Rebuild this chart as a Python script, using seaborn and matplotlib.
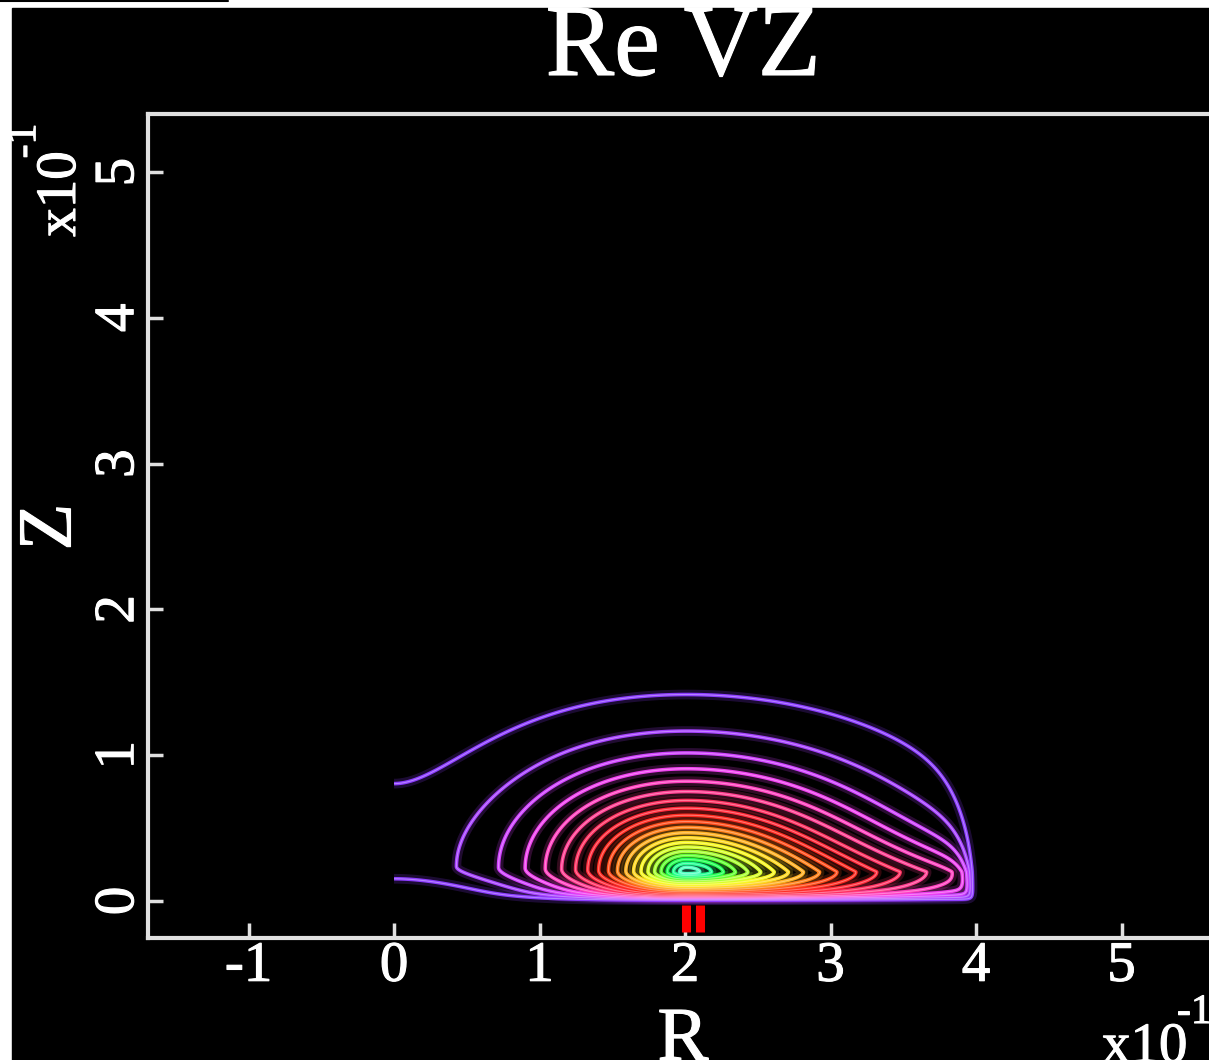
import numpy as np
import seaborn as sns
import matplotlib.pyplot as plt
import matplotlib.patheffects as pe
from matplotlib.patches import Rectangle
from matplotlib.lines import Line2D

# axis ticks (units of 1e-1)
X_TICKS = [-1, 0, 1, 2, 3, 4, 5]
Y_TICKS = [0, 1, 2, 3, 4, 5]
X_RANGE = (-1.691, 5.814)
Y_RANGE = (-0.254, 5.398)

# vortex field
R_CENTER = 2.01
Z_CENTER = 0.20
R_WALL = 3.99
RIDGE_RISE = 0.04
S_LEFT = 0.70
S_RIGHT_TOP = 0.80
S_RIGHT_LOW = 1.35
RIGHT_DECAY = 0.25
S_UP = 0.45
S_DOWN_CENTER = 0.20
S_DOWN_EDGE = 0.07
SHAPE_P = 1.12
AXIS_SMOOTH = 6
WALL_R0 = 0.04
WALL_R_SLOPE = 0.18
WALL_Z = 0.04
N_LEVELS = 20

# contour colours, outermost level first
LINE_COLORS = ["#8c3cff", "#a640ff", "#d040ff", "#f040f0", "#ff40c0",
               "#ff3c90", "#ff3060", "#ff2838", "#ff2a20", "#ff4a18",
               "#ff8018", "#ffb020", "#ffd820", "#f8f820", "#d8ff28",
               "#a8ff30", "#60ff30", "#20ff50", "#20ff90", "#50ffc0"]

# red marker under the core
MARK_R = [2.007, 2.103]
MARK_Z = (-0.027, -0.213)


def field(R, Z):
    x = np.clip(R_CENTER - R, 0, None)
    # flat towards the axis R = 0
    left = x - x ** AXIS_SMOOTH / (AXIS_SMOOTH * R_CENTER ** (AXIS_SMOOTH - 1))
    w = np.clip(1 - (R / R_CENTER) ** 2, 0, 1) ** 2
    zc = Z_CENTER + RIDGE_RISE * w
    dZ = Z - zc
    s_right = S_RIGHT_TOP + (S_RIGHT_LOW - S_RIGHT_TOP) * np.exp(-np.clip(dZ, 0, None) / RIGHT_DECAY)
    u = np.where(R < R_CENTER, left / S_LEFT, (R - R_CENTER) / s_right)
    s_down = S_DOWN_CENTER + (S_DOWN_EDGE - S_DOWN_CENTER) * w
    sZ = np.where(dZ > 0, S_UP, s_down)
    rho = np.sqrt(u ** 2 + (dZ / sZ) ** 2)
    wall_r = WALL_R0 + WALL_R_SLOPE * Z
    return (np.exp(-rho ** SHAPE_P) * np.tanh(Z / WALL_Z)
            * np.tanh(np.clip(R_WALL - R, 0, None) / wall_r))


sns.set_style("dark", {"axes.facecolor": "black", "figure.facecolor": "white"})
plt.rcParams['font.family'] = ['Liberation Serif', 'DejaVu Serif']
thick = [pe.withStroke(linewidth=0.8, foreground="white")]

fig = plt.figure(figsize=(12.09, 10.6), dpi=100)
fig.patches.append(Rectangle((12 / 1209, 0), 1, 1 - 8 / 1060, transform=fig.transFigure,
                             color="black", zorder=-10))
fig.lines.append(Line2D([0, 228 / 1209], [1 - 1 / 1060] * 2, transform=fig.transFigure,
                        color="black", lw=1.5))

ax = fig.add_axes([148 / 1209, 122 / 1060, (1240 - 148) / 1209, (938 - 114) / 1060])
ax.set_facecolor("black")

r = np.linspace(0, R_WALL, 900)
z = np.linspace(0, 2.2, 600)
RR, ZZ = np.meshgrid(r, z)
F = field(RR, ZZ)
levels = np.linspace(1, N_LEVELS, N_LEVELS) / (N_LEVELS + 1)

pal = sns.color_palette(LINE_COLORS)
light = [tuple(0.55 * np.array(c) + 0.45) for c in pal]
ax.contour(RR, ZZ, F, levels=levels, colors=pal, linewidths=7, alpha=0.2)
ax.contour(RR, ZZ, F, levels=levels, colors=pal, linewidths=2.6)
ax.contour(RR, ZZ, F, levels=levels, colors=light, linewidths=0.8, alpha=0.8)

ax.vlines(MARK_R, MARK_Z[0], MARK_Z[1], colors="red", lw=6.5)

ax.set_xlim(*X_RANGE)
ax.set_ylim(*Y_RANGE)
ax.set_xticks(X_TICKS)
ax.set_xticklabels([str(t) for t in X_TICKS])
ax.set_yticks(Y_TICKS)
ax.set_yticklabels([str(t) for t in Y_TICKS], rotation=90, va="center")
ax.tick_params(direction="in", length=11, width=2.5, color="#e0e0e0",
               labelcolor="white", labelsize=41, pad=2)
ax.tick_params(axis="x", bottom=True)
ax.tick_params(axis="y", left=True)
for lab in ax.get_xticklabels() + ax.get_yticklabels():
    lab.set_path_effects(thick)
ax.grid(False)
for side in ["top", "left", "bottom"]:
    ax.spines[side].set_visible(True)
    ax.spines[side].set_color("#e0e0e0")
    ax.spines[side].set_linewidth(3)
ax.spines["right"].set_visible(False)

texts = [
    fig.text(683 / 1209, 1 - 75 / 1060, "Re VZ", fontsize=74, ha="center", va="baseline"),
    fig.text(52 / 1209, 1 - 527 / 1060, "Z", fontsize=55, ha="center", va="center", rotation=90),
    fig.text(683 / 1209, 1 - 1060 / 1060, "R", fontsize=55, ha="center", va="baseline"),
    fig.text(61 / 1209, 1 - 194 / 1060, "x10", fontsize=41, ha="center", va="center", rotation=90),
    fig.text(25 / 1209, 1 - 141 / 1060, "-1", fontsize=30, ha="center", va="center", rotation=90),
    fig.text(1102 / 1209, 1 - 1062 / 1060, "x10", fontsize=41, ha="left", va="baseline"),
    fig.text(1177 / 1209, 1 - 1023 / 1060, "-1", fontsize=30, ha="left", va="baseline"),
]
for t in texts:
    t.set_color("white")
    t.set_path_effects(thick)

fig.savefig("out.png", dpi=100, facecolor="white")
